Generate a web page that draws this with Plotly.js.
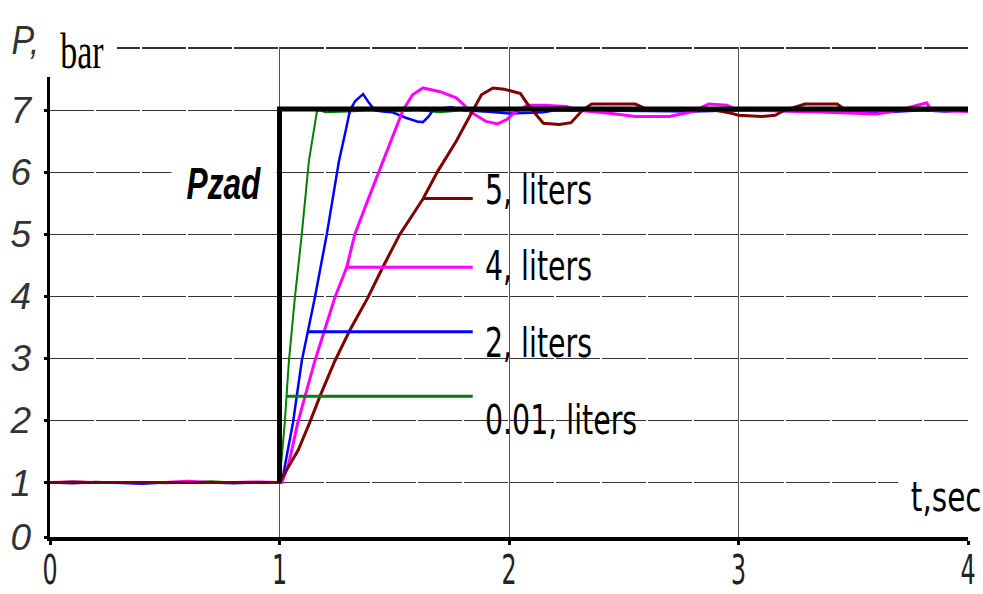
<!DOCTYPE html>
<html>
<head>
<meta charset="utf-8">
<script src="https://cdn.plot.ly/plotly-3.0.1.min.js"></script>
<style>html,body{margin:0;padding:0;background:#fff;}#chart{width:983px;height:594px;}</style>
</head>
<body>
<div id="chart"></div>
<script>
// ---- data ----
const flatT = [0, 0.1, 0.2, 0.3, 0.4, 0.5, 0.6, 0.7, 0.8, 0.9, 1.0];

const greenT = flatT.concat([1.023, 1.041, 1.067, 1.097, 1.128, 1.15, 1.163, 1.175, 1.2, 1.3, 1.4, 1.5, 1.6, 1.7, 1.8, 1.9, 2.0, 2.2, 2.4, 2.6, 2.8, 3.0, 3.2, 3.4, 3.6, 3.8, 4.0]);
const greenP = [1.0, 1.02, 1.0, 1.01, 1.0, 0.99, 1.0, 1.02, 1.0, 1.0, 1.0,
                1.97, 2.96, 3.98, 5.0, 6.18, 6.7, 6.98, 7.0, 6.97, 6.98, 7.0, 6.98, 7.0, 6.97, 7.0, 6.98, 7.0, 7.0, 6.99, 7.0, 7.0, 7.0, 6.99, 7.0, 7.0, 7.0, 7.0];

const blueT = flatT.concat([1.01, 1.03, 1.059, 1.097, 1.124, 1.154, 1.206, 1.259, 1.29, 1.307, 1.33, 1.364, 1.39, 1.415, 1.45, 1.49, 1.55, 1.6, 1.625, 1.65, 1.668, 1.7, 1.75, 1.8, 1.9, 2.0, 2.1, 2.15, 2.2, 2.4, 2.6, 2.8, 3.0, 3.2, 3.4, 3.6, 3.7, 3.8, 3.9, 4.0]);
const blueP = [1.0, 0.99, 1.01, 1.0, 0.98, 1.0, 1.01, 1.0, 0.99, 1.0, 1.0,
               1.0, 1.4, 1.97, 2.96, 3.43, 3.98, 5.0, 6.18, 6.7, 7.0, 7.15, 7.26, 7.12, 7.0, 6.98, 6.97, 6.88, 6.82, 6.81, 6.9, 7.0, 7.03, 7.05, 7.0, 6.98, 6.95, 6.96, 6.97, 7.0, 7.0, 6.99, 6.98, 7.0, 6.99, 6.97, 6.96, 6.98, 7.0, 6.98, 7.0];

const magentaT = flatT.concat([1.01, 1.04, 1.08, 1.154, 1.2, 1.241, 1.293, 1.328, 1.39, 1.45, 1.5, 1.538, 1.58, 1.625, 1.7, 1.77, 1.8, 1.83, 1.9, 1.95, 1.99, 2.02, 2.08, 2.15, 2.25, 2.3, 2.45, 2.55, 2.7, 2.8, 2.87, 2.95, 3.0, 3.2, 3.45, 3.6, 3.7, 3.82, 3.84, 4.0]);
const magentaP = [1.0, 1.01, 1.0, 1.0, 0.99, 1.0, 1.02, 1.0, 1.0, 1.01, 1.0,
                  1.0, 1.3, 1.97, 2.96, 3.5, 3.98, 4.47, 5.0, 5.6, 6.18, 6.65, 7.0, 7.25, 7.36, 7.3, 7.2, 7.1, 6.98, 6.82, 6.78, 6.85, 6.95, 7.08, 7.08, 7.06, 7.0, 6.95, 6.9, 6.9, 6.98, 7.1, 7.08, 7.0, 6.99, 6.96, 6.94, 7.0, 7.12, 7.0, 6.98];

const brownT = flatT.concat([1.03, 1.081, 1.132, 1.176, 1.241, 1.31, 1.385, 1.45, 1.524, 1.625, 1.69, 1.77, 1.843, 1.88, 1.93, 1.98, 2.05, 2.09, 2.15, 2.22, 2.27, 2.32, 2.36, 2.45, 2.55, 2.6, 2.9, 2.97, 3.0, 3.1, 3.16, 3.2, 3.29, 3.43, 3.46, 3.7, 3.9, 4.0]);
const brownP = [1.0, 1.0, 1.0, 1.0, 1.0, 1.0, 1.0, 1.0, 1.0, 1.0, 1.0,
                1.2, 1.52, 1.97, 2.39, 2.96, 3.48, 3.98, 4.47, 5.0, 5.57, 6.02, 6.5, 7.0, 7.25, 7.36, 7.34, 7.27, 7.05, 6.79, 6.77, 6.8, 7.0, 7.1, 7.1, 7.1, 7.02, 7.0, 6.95, 6.92, 6.9, 6.92, 7.0, 7.1, 7.1, 7.02, 7.0, 7.02, 7.0];

const pzadT = [1, 1, 4];
const pzadP = [1, 7.02, 7.02];

// legend leader lines (level, start time) and their shared end time
const seriesNames = ['0.01, liters', '2, liters', '4, liters', '5, liters'];
const seriesColors = ['#008000', '#0000ff', '#ff00ff', '#800000'];
const leaderP = [2.39, 3.43, 4.47, 5.58];
const leaderStart = [1.028, 1.124, 1.293, 1.625];
const leaderEnd = 1.842;

const yTickVals = [0.123, 1, 2, 3, 4, 5, 6, 7, 8];
const yTickText = ['0', '1', '2', '3', '4', '5', '6', '7', ''];
const xTickVals = [0, 1, 2, 3, 4];
const xTickText = ['0', '1', '2', '3', '4'];

// ---- traces ----
const widths = [2, 2.5, 3, 3];
const seriesT = [greenT, blueT, magentaT, brownT];
const seriesP = [greenP, blueP, magentaP, brownP];
const traces = [];
for (let i = 0; i < 4; i++) {
  traces.push({x: seriesT[i], y: seriesP[i], type: 'scatter', mode: 'lines', name: seriesNames[i],
    line: {color: seriesColors[i], width: widths[i]}, showlegend: false, hoverinfo: 'skip'});
}
for (let i = 0; i < 4; i++) {
  traces.push({x: [leaderStart[i], leaderEnd], y: [leaderP[i], leaderP[i]], type: 'scatter', mode: 'lines',
    line: {color: seriesColors[i], width: 3}, showlegend: false, hoverinfo: 'skip'});
}
traces.push({x: pzadT, y: pzadP, type: 'scatter', mode: 'lines', name: 'Pzad',
  line: {color: '#000', width: 5}, showlegend: false, hoverinfo: 'skip'});

const narrow = 'DejaVu Sans Condensed, DejaVu Sans, sans-serif';
const legendY = [0.239, 0.396, 0.553, 0.708];

// horizontal squeeze applied to each annotation after drawing (the reference text is tall and narrow)
const annSqueeze = [];
const annotations = [];
for (let i = 0; i < 4; i++) {
  annotations.push({xref: 'paper', yref: 'paper', x: 0.472, y: legendY[i], xanchor: 'left', yanchor: 'middle',
    text: seriesNames[i], showarrow: false, font: {family: narrow, size: 41, color: '#000'}});
  annSqueeze.push([0.77, 'left']);
}
annotations.push({xref: 'paper', yref: 'paper', x: 0.189, y: 0.722, xanchor: 'center', yanchor: 'middle',
  text: 'Pzad', showarrow: false, bgcolor: '#fff', borderpad: 0,
  font: {family: 'Liberation Sans, Arial, sans-serif', size: 44, color: '#000', weight: 'bold', style: 'italic'}});
annSqueeze.push([0.72, 'center']);
annotations.push({xref: 'paper', yref: 'paper', x: 0.976, y: 0.082, xanchor: 'center', yanchor: 'middle',
  text: 't,sec', showarrow: false, bgcolor: '#fff',
  font: {family: narrow, size: 41, color: '#000'}});
annSqueeze.push([0.8, 'center']);
annotations.push({xref: 'paper', yref: 'paper', x: -0.027, y: 1.014, xanchor: 'center', yanchor: 'middle',
  text: 'P,', showarrow: false,
  font: {family: 'Liberation Sans, Arial, sans-serif', size: 40, color: '#333', style: 'italic'}});
annSqueeze.push([0.85, 'center']);
annotations.push({xref: 'paper', yref: 'paper', x: 0.035, y: 0.992, xanchor: 'center', yanchor: 'middle',
  text: 'bar', showarrow: false,
  font: {family: 'Liberation Serif, Times New Roman, serif', size: 50, color: '#000'}});
annSqueeze.push([0.68, 'center']);

const shapes = [
  // white panel behind the series labels (covers grid, under traces)
  {type: 'rect', xref: 'paper', yref: 'paper', x0: 0.461, x1: 0.676, y0: 0.167, y1: 0.814,
   fillcolor: '#fff', line: {width: 0}, layer: 'between'},
  // white panel behind "t,sec"
  {type: 'rect', xref: 'paper', yref: 'paper', x0: 0.924, x1: 1.02, y0: 0.012, y1: 0.19,
   fillcolor: '#fff', line: {width: 0}, layer: 'above'},
  // white panel behind the axis title at top-left
  {type: 'rect', xref: 'paper', yref: 'paper', x0: -0.06, x1: 0.073, y0: 0.939, y1: 1.06,
   fillcolor: '#fff', line: {width: 0}, layer: 'above'}
];

const layout = {
  width: 983, height: 594,
  margin: {l: 50, r: 15, t: 47, b: 57, pad: 0},
  paper_bgcolor: '#fff', plot_bgcolor: '#fff',
  showlegend: false,
  xaxis: {range: [0, 4], tickvals: xTickVals, ticktext: xTickText,
    showline: true, linecolor: '#000', linewidth: 4,
    showgrid: true, gridcolor: '#555', gridwidth: 1,
    ticks: 'outside', ticklen: 4, tickwidth: 3, tickcolor: '#000',
    ticklabelstandoff: -9,
    tickfont: {family: narrow, size: 40, color: '#222'}, zeroline: false},
  yaxis: {range: [0.123, 8.02], tickvals: yTickVals, ticktext: yTickText,
    showline: true, linecolor: '#000', linewidth: 3.5,
    showgrid: true, gridcolor: '#333', gridwidth: 1.5, griddash: '44px,2px',
    ticks: 'outside', ticklen: 3, tickwidth: 3, tickcolor: '#000',
    ticklabelstandoff: 5,
    tickfont: {family: 'Liberation Sans, Arial, sans-serif', size: 37, color: '#333', style: 'italic'},
    zeroline: false},
  shapes: shapes,
  annotations: annotations
};

function squeeze(el, sx, anchor) {
  const b = el.getBBox();
  const cx = anchor === 'left' ? b.x : b.x + b.width / 2;
  const t = el.getAttribute('transform') || '';
  el.setAttribute('transform', t + ' translate(' + cx + ',0) scale(' + sx + ',1) translate(' + (-cx) + ',0)');
}

Plotly.newPlot('chart', traces, layout, {staticPlot: true, displayModeBar: false}).then(function (gd) {
  annSqueeze.forEach(function (s, i) {
    const el = gd.querySelector('.annotation[data-index="' + i + '"] text.annotation-text');
    if (el) squeeze(el, s[0], s[1]);
  });
  gd.querySelectorAll('.xtick text').forEach(function (el) { squeeze(el, 0.66, 'center'); });
});
</script>
</body>
</html>
